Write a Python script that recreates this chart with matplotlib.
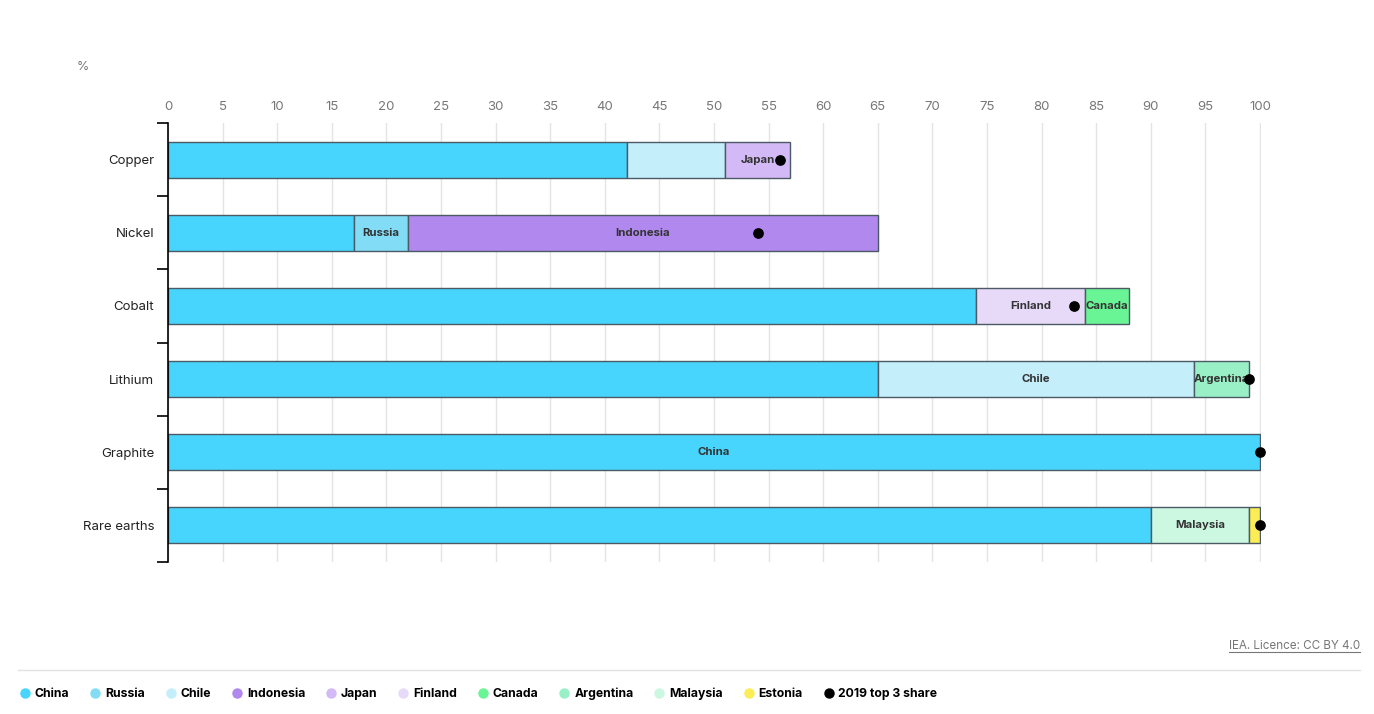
import matplotlib.pyplot as plt
import numpy as np

plt.rcParams['font.family'] = ['Inter', 'DejaVu Sans']

minerals = ["Copper", "Nickel", "Cobalt", "Lithium", "Graphite", "Rare earths"]
countries = ["China", "Russia", "Chile", "Indonesia", "Japan", "Finland",
             "Canada", "Argentina", "Malaysia", "Estonia"]
china = [42, 17, 74, 65, 100, 90]
russia = [0, 5, 0, 0, 0, 0]
chile = [9, 0, 0, 29, 0, 0]
indonesia = [0, 43, 0, 0, 0, 0]
japan = [6, 0, 0, 0, 0, 0]
finland = [0, 0, 10, 0, 0, 0]
canada = [0, 0, 4, 0, 0, 0]
argentina = [0, 0, 0, 5, 0, 0]
malaysia = [0, 0, 0, 0, 0, 9]
estonia = [0, 0, 0, 0, 0, 1]
top3_2019 = [56, 54, 83, 99, 100, 100]

# which segments carry a country label
labelled = [("Copper", "Japan"), ("Nickel", "Russia"), ("Nickel", "Indonesia"),
            ("Cobalt", "Finland"), ("Cobalt", "Canada"), ("Lithium", "Chile"),
            ("Lithium", "Argentina"), ("Graphite", "China"), ("Rare earths", "Malaysia")]

colors = ["#48d5fd", "#82dcf5", "#c4eefa", "#b088ee", "#d3b9f5", "#e7daf9",
          "#69f595", "#9af0c6", "#ccf8e2", "#fcec55"]

series = [china, russia, chile, indonesia, japan, finland, canada, argentina, malaysia, estonia]

fig = plt.figure(figsize=(13.74, 7.14), dpi=100)
ax = fig.add_axes([0.1223, 0.2129, 0.7955, 0.6148])

y = np.arange(len(minerals))
left = np.zeros(len(minerals))
for name, vals, col in zip(countries, series, colors):
    vals = np.array(vals, dtype=float)
    mask = vals > 0
    ax.barh(y[mask], vals[mask], left=left[mask], height=0.49, color=col,
            edgecolor="#4b5a64", linewidth=1, zorder=2)
    for i in np.where(mask)[0]:
        if (minerals[i], name) in labelled:
            ax.text(left[i] + vals[i] / 2, y[i], name, ha="center", va="center",
                    fontsize=8.2, fontweight="bold", color="#333333", zorder=4)
    left += vals

ax.scatter(top3_2019, y, s=45, color="black", zorder=5, clip_on=False)

ax.set_xlim(0, 100.1)
ax.set_ylim(len(minerals) - 0.5, -0.5)
ax.set_xticks(np.arange(0, 101, 5))
ax.xaxis.tick_top()
ax.tick_params(axis="x", length=0, labelsize=9.5, labelcolor="#777777", pad=7)
ax.grid(axis="x", color="#e4e4e4", linewidth=1, zorder=0)
ax.set_axisbelow(True)

ax.set_yticks(y)
ax.set_yticklabels(minerals)
ax.set_yticks(np.arange(-0.5, len(minerals)), minor=True)
ax.tick_params(axis="y", which="major", length=0, labelsize=9.5, pad=10, labelcolor="#222222")
ax.tick_params(axis="y", which="minor", length=8, width=1.2, color="black")

for s in ["top", "right", "bottom"]:
    ax.spines[s].set_visible(False)
ax.spines["left"].set_linewidth(1.2)
ax.spines["left"].set_color("black")

fig.text(83 / 1374, 1 - 67 / 714, "%", fontsize=9, color="#777777", ha="center", va="center")

lic = fig.text(1360 / 1374, 1 - 646 / 714, "IEA. Licence: CC BY 4.0", fontsize=8.4,
               color="#777777", ha="right", va="center")
fig.canvas.draw()
bb = lic.get_window_extent().transformed(fig.transFigure.inverted())
fig.add_artist(plt.Line2D([bb.x0, bb.x1], [1 - 652 / 714, 1 - 652 / 714],
                          color="#777777", linewidth=0.8))
fig.add_artist(plt.Line2D([18 / 1374, 1360 / 1374], [1 - 670 / 714, 1 - 670 / 714],
                          color="#e2e2e2", linewidth=1))

handles = [plt.Line2D([], [], marker="o", linestyle="", markersize=6.5, color=c)
           for c in colors]
handles.append(plt.Line2D([], [], marker="o", linestyle="", markersize=6.5, color="black"))
leg = fig.legend(handles, countries + ["2019 top 3 share"], loc="center left",
                 bbox_to_anchor=(8 / 1374, 1 - 694 / 714), ncol=11, frameon=False,
                 handletextpad=0.3, columnspacing=1.62, handlelength=1.0,
                 prop={"weight": "bold", "size": 8.8})

fig.savefig("out.png", dpi=100)
